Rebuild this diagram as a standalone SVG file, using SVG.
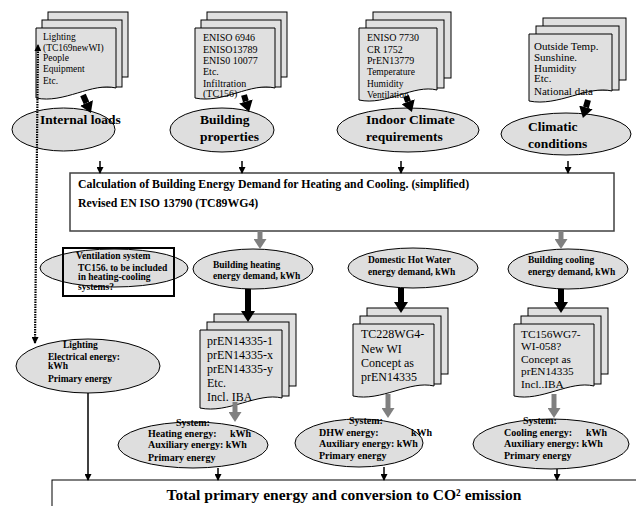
<svg xmlns="http://www.w3.org/2000/svg" width="636" height="506" viewBox="0 0 636 506">
<style>
.pg{fill:#e0e0e0;stroke:#000;stroke-width:1}
.el{fill:#dedede;stroke:#000;stroke-width:1}
.t{font-family:"Liberation Serif","Times New Roman",serif;fill:#000}
.b{font-weight:bold}
.big{font-family:"Liberation Serif",serif;font-weight:bold;font-size:13.5px}
.st{font-size:10px}
.sm{font-family:"Liberation Serif",serif;font-weight:bold;font-size:9.5px}
.sy{font-family:"Liberation Serif",serif;font-weight:bold;font-size:10px}
.bk{stroke:#000;stroke-width:6;fill:none}
.gr{stroke:#808080;stroke-width:5;fill:none}
.th{stroke:#000;stroke-width:1.5;fill:none}
</style>
<defs>
<marker id="hb" markerUnits="userSpaceOnUse" viewBox="0 0 11 14" markerWidth="11" markerHeight="14" refX="0" refY="7" orient="auto"><path d="M0,0 L11,7 L0,14 z" fill="#000"/></marker>
<marker id="hg" markerUnits="userSpaceOnUse" viewBox="0 0 10 13" markerWidth="10" markerHeight="13" refX="0" refY="6.5" orient="auto"><path d="M0,0 L10,6.5 L0,13 z" fill="#808080"/></marker>
<marker id="hs" markerUnits="userSpaceOnUse" viewBox="0 0 7 7" markerWidth="7" markerHeight="7" refX="6" refY="3.5" orient="auto-start-reverse"><path d="M0,0 L7,3.5 L0,7 z" fill="#000"/></marker>
</defs>
<rect width="636" height="506" fill="#fff"/>

<!-- Stacks -->
<g id="stack-lighting">
<rect class="pg" x="48" y="12" width="80" height="65"/>
<rect class="pg" x="42" y="20" width="80" height="67"/>
<path class="pg" d="M36,28 H116 V88 C92,82 64,104 36,98 Z"/>
<g class="t" font-size="9.5"><text x="43" y="40">Lighting</text><text x="43" y="50.5">(TC169newWI)</text><text x="43" y="61">People</text><text x="43" y="72">Equipment</text><text x="43" y="84">Etc.</text></g>
</g>
<g id="stack-properties">
<rect class="pg" x="207" y="12" width="80" height="65"/>
<rect class="pg" x="201" y="20" width="80" height="67"/>
<path class="pg" d="M195,28 H275 V88 C251,82 223,104 195,98 Z"/>
<g class="t st"><text x="203" y="41">ENISO 6946</text><text x="203" y="53">ENISO13789</text><text x="203" y="64">ENIS0 10077</text><text x="203" y="75">Etc.</text><text x="203" y="87">Infiltration</text><text x="203" y="97">(TC156)</text></g>
</g>
<g id="stack-indoor">
<rect class="pg" x="373" y="12" width="78" height="66"/>
<rect class="pg" x="366" y="20" width="78" height="68"/>
<path class="pg" d="M359,28 H437 V90 C414,84 386,106 359,100 Z"/>
<g class="t st"><text x="367" y="41">ENISO 7730</text><text x="367" y="53">CR 1752</text><text x="367" y="64">PrEN13779</text><text x="367" y="75" font-size="9.5">Temperature</text><text x="367" y="87" font-size="9.5">Humidity</text><text x="367" y="98" font-size="9.5">Ventilation</text></g>
</g>
<g id="stack-climatic">
<rect class="pg" x="543" y="18" width="83" height="62"/>
<rect class="pg" x="536" y="26" width="83" height="64"/>
<path class="pg" d="M529,34 H612 V91 C588,85 558,107 529,101 Z"/>
<g class="t" font-size="11"><text x="534" y="50">Outside Temp.</text><text x="534" y="61">Sunshine.</text><text x="534" y="71.5">Humidity</text><text x="534" y="82">Etc.</text><text x="534" y="95">National data</text></g>
</g>

<!-- Top ellipses -->
<g id="internal-loads"><ellipse class="el" cx="63.5" cy="129.5" rx="51.5" ry="21.5"/><text class="t big" x="40" y="124">Internal loads</text></g>
<g id="building-properties"><ellipse class="el" cx="222" cy="130" rx="52" ry="22"/><text class="t big" x="200" y="124">Building</text><text class="t big" x="200" y="141">properties</text></g>
<g id="indoor-climate"><ellipse class="el" cx="408" cy="130" rx="71" ry="22"/><text class="t big" x="366" y="124">Indoor Climate</text><text class="t big" x="366" y="141">requirements</text></g>
<g id="climatic-conditions"><ellipse class="el" cx="566" cy="134" rx="65" ry="21"/><text class="t big" x="528" y="131">Climatic</text><text class="t big" x="528" y="148">conditions</text></g>

<!-- Calculation box -->
<g id="calculation">
<rect x="70" y="173" width="544" height="58" fill="#fff" stroke="#404040" stroke-width="1.5"/>
<text class="t b" font-size="11.8" x="78" y="188">Calculation of Building Energy Demand for Heating and Cooling. (simplified)</text>
<text class="t b" font-size="11.8" x="78" y="207">Revised EN ISO 13790 (TC89WG4)</text>
</g>

<!-- Middle ellipses -->
<g id="ventilation">
<ellipse class="el" cx="114" cy="268" rx="74" ry="19"/>
<rect x="63" y="248" width="111" height="48" fill="none" stroke="#000" stroke-width="2"/>
<text class="sm" x="76" y="259">Ventilation system</text>
<text class="sm" x="78" y="270.5" font-size="9">TC156. to be included</text>
<text class="sm" x="78" y="280" font-size="9">in heating-cooling</text>
<text class="sm" x="78" y="289.5" font-size="9">systems?</text>
</g>
<g id="heating-demand"><ellipse class="el" cx="253" cy="269" rx="60" ry="20"/><text class="sm" x="213" y="268">Building heating</text><text class="sm" x="213" y="279">energy demand, kWh</text></g>
<g id="dhw-demand"><ellipse class="el" cx="413" cy="268" rx="65" ry="20"/><text class="sm" x="368" y="263">Domestic Hot Water</text><text class="sm" x="368" y="275">energy demand, kWh</text></g>
<g id="cooling-demand"><ellipse class="el" cx="568" cy="269" rx="60" ry="20"/><text class="sm" x="528" y="263">Building cooling</text><text class="sm" x="528" y="275">energy demand, kWh</text></g>

<!-- Lower stacks -->
<g id="stack-heating">
<rect class="pg" x="214" y="314" width="82" height="72"/>
<rect class="pg" x="207" y="322" width="82" height="74"/>
<path class="pg" d="M200,330 H282 V398 C258,392 228,414 200,408 Z"/>
<g class="t" font-size="12"><text x="207" y="345">prEN14335-1</text><text x="207" y="359">prEN14335-x</text><text x="207" y="373">prEN14335-y</text><text x="207" y="387">Etc.</text><text x="207" y="401">Incl. IBA</text></g>
</g>
<g id="stack-dhw">
<rect class="pg" x="367" y="308" width="81" height="66"/>
<rect class="pg" x="360" y="316" width="81" height="68"/>
<path class="pg" d="M353,324 H434 V386 C410,380 381,402 353,396 Z"/>
<g class="t" font-size="12"><text x="361" y="338">TC228WG4-</text><text x="361" y="353">New WI</text><text x="361" y="367">Concept as</text><text x="361" y="381">prEN14335</text></g>
</g>
<g id="stack-cooling">
<rect class="pg" x="528" y="308" width="80" height="66"/>
<rect class="pg" x="521" y="316" width="80" height="68"/>
<path class="pg" d="M514,324 H594 V386 C570,380 541,402 514,396 Z"/>
<g class="t" font-size="11.3"><text x="521" y="337.5">TC156WG7-</text><text x="521" y="350">WI-058?</text><text x="521" y="362.5">Concept as</text><text x="521" y="375">prEN14335</text><text x="521" y="388">Incl..IBA</text></g>
</g>

<!-- Lighting ellipse -->
<g id="lighting-energy"><ellipse class="el" cx="88" cy="366" rx="72" ry="27"/>
<text class="sm" x="63" y="348">Lighting</text><text class="sm" x="48" y="360">Electrical energy:</text><text class="sm" x="48" y="369">kWh</text><text class="sm" x="48" y="382">Primary energy</text></g>

<!-- System ellipses -->
<g id="system-heating"><ellipse class="el" cx="193" cy="445" rx="75" ry="23"/>
<text class="sy" x="176" y="426">System:</text><text class="sy" x="148" y="437">Heating energy:</text><text class="sy" x="230" y="437">kWh</text><text class="sy" x="148" y="448">Auxiliary energy: kWh</text><text class="sy" x="148" y="461">Primary energy</text></g>
<g id="system-dhw"><ellipse class="el" cx="359" cy="443" rx="64" ry="24"/>
<text class="sy" x="349" y="424">System:</text><text class="sy" x="319" y="436">DHW energy:</text><text class="sy" x="411" y="436">kWh</text><text class="sy" x="319" y="447">Auxiliary energy: kWh</text><text class="sy" x="319" y="459">Primary energy</text></g>
<g id="system-cooling"><ellipse class="el" cx="551" cy="444" rx="78" ry="25"/>
<text class="sy" x="523" y="424">System:</text><text class="sy" x="504" y="436">Cooling energy:</text><text class="sy" x="586" y="436">kWh</text><text class="sy" x="504" y="447">Auxiliary energy: kWh</text><text class="sy" x="504" y="459">Primary energy</text></g>

<!-- Total box -->
<g id="total">
<rect x="52" y="480" width="600" height="40" fill="#fff" stroke="#000" stroke-width="1"/>
<text class="big" style="font-size:15.5px" x="344" y="500" text-anchor="middle">Total primary energy and conversion to CO² emission</text>
</g>

<g id="connectors">
<line class="bk" x1="83" y1="95" x2="86.5" y2="103" marker-end="url(#hb)"/>
<line class="bk" x1="244" y1="95" x2="245.9" y2="101.4" marker-end="url(#hb)"/>
<line class="bk" x1="406" y1="96" x2="408.1" y2="101.7" marker-end="url(#hb)"/>
<line class="bk" x1="588" y1="100" x2="585.9" y2="107.4" marker-end="url(#hb)"/>
<line class="th" x1="100" y1="161" x2="100" y2="173" marker-end="url(#hs)"/>
<line class="th" x1="242" y1="161" x2="242" y2="173" marker-end="url(#hs)"/>
<line class="th" x1="401" y1="161" x2="401" y2="173" marker-end="url(#hs)"/>
<line class="th" x1="568" y1="161" x2="568" y2="173" marker-end="url(#hs)"/>
<line class="gr" x1="260" y1="231" x2="260" y2="239" marker-end="url(#hg)"/>
<line class="gr" x1="561" y1="231" x2="561" y2="239" marker-end="url(#hg)"/>
<line class="bk" x1="248" y1="289" x2="248" y2="311" marker-end="url(#hb)"/>
<line class="bk" x1="401" y1="288" x2="401" y2="302" marker-end="url(#hb)"/>
<line class="bk" x1="561" y1="289" x2="561" y2="302" marker-end="url(#hb)"/>
<line class="gr" x1="235" y1="402" x2="235" y2="412" marker-end="url(#hg)"/>
<line class="gr" x1="388" y1="394" x2="388" y2="408" marker-end="url(#hg)"/>
<line class="gr" x1="554" y1="394" x2="554" y2="408" marker-end="url(#hg)"/>
<line class="th" x1="218" y1="468" x2="218" y2="480" marker-end="url(#hs)"/>
<line class="th" x1="384" y1="467" x2="384" y2="480" marker-end="url(#hs)"/>
<line class="th" x1="557" y1="469" x2="557" y2="480" marker-end="url(#hs)"/>
<line class="th" x1="88" y1="393" x2="88" y2="480" marker-end="url(#hs)"/>
<line x1="35" y1="343" x2="38" y2="45" stroke="#000" stroke-width="2.2" stroke-dasharray="1.5 1" marker-start="url(#hs)" marker-end="url(#hs)"/>
</g>
</svg>
